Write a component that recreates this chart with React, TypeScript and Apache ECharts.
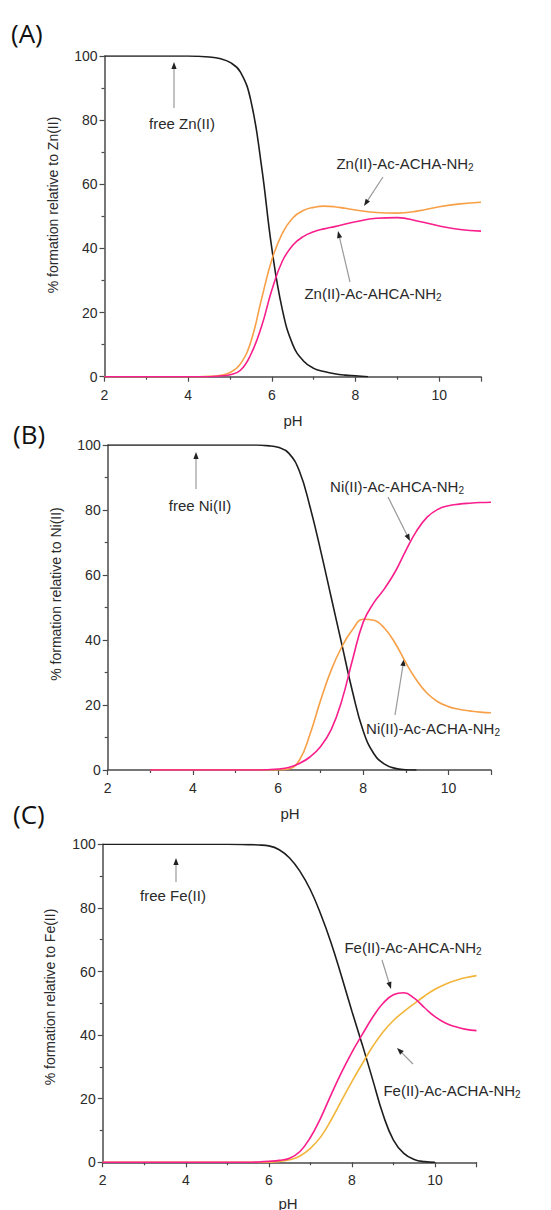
import React, { useEffect, useRef } from "react";
import * as echarts from "echarts";

// ---- Data (pH, % formation) ----
const freeZn = [[2,100],[3,100],[4,100],[4.25,99.9],[4.5,99.7],[4.75,99.2],[5,98],[5.25,95],[5.5,86],[5.75,66],[6,40],[6.25,21],[6.5,10],[6.75,5],[7,2.6],[7.25,1.6],[7.5,0.9],[7.75,0.5],[8,0.3],[8.3,0]];
const znACHA = [[2,0],[3,0],[4,0],[4.25,0],[4.5,0.1],[4.75,0.4],[5,1.3],[5.25,4],[5.5,11],[5.75,24],[6,36.5],[6.25,44.7],[6.5,49.5],[6.75,51.8],[7,52.8],[7.25,53.2],[7.5,53],[7.75,52.5],[8,52],[8.5,51.2],[9,51],[9.5,51.7],[10,53],[10.5,53.9],[11,54.4]];
const znAHCA = [[2,0],[3,0],[4,0],[4.25,0],[4.5,0],[4.75,0.2],[5,0.6],[5.25,2],[5.5,7],[5.75,15.5],[6,27],[6.25,36],[6.5,41],[6.75,43.7],[7,45.2],[7.25,46.1],[7.5,46.8],[8,48.3],[8.5,49.4],[9,49.6],[9.5,48.5],[10,47],[10.5,45.9],[11,45.4]];

const freeNi = [[2,100],[3,100],[4,100],[5,100],[5.5,100],[5.75,99.8],[6,99.3],[6.25,97.5],[6.5,92],[6.75,81],[7,67.5],[7.25,53],[7.5,38.5],[7.75,24],[8,12],[8.25,5],[8.5,1.8],[8.75,0.5],[9,0.1],[9.25,0]];
const niACHA = [[3,0],[4,0],[5,0],[5.5,0],[6,0],[6.25,0.3],[6.5,3],[6.75,11],[7,21.5],[7.25,30.8],[7.5,38],[7.75,43.2],[8,46.4],[8.25,46.1],[8.5,43.6],[8.75,39],[9,33],[9.25,27.7],[9.5,23.6],[9.75,21],[10,19.5],[10.25,18.7],[10.5,18.2],[10.75,17.8],[11,17.6]];
const niAHCA = [[3,0],[4,0],[5,0],[5.5,0],[5.75,0.1],[6,0.3],[6.25,0.8],[6.5,2],[6.75,4],[7,7.2],[7.25,12.5],[7.5,21.5],[7.75,34],[8,45.5],[8.25,51.5],[8.5,55.8],[8.75,61],[9,67.5],[9.25,73.5],[9.5,77.8],[9.75,80.2],[10,81.3],[10.25,81.8],[10.5,82.1],[10.75,82.3],[11,82.4]];

const freeFe = [[2,100],[3,100],[4,100],[5,100],[5.5,99.9],[5.75,99.8],[6,99.5],[6.25,98.3],[6.5,95.7],[6.75,91.5],[7,85.7],[7.25,78],[7.5,69],[7.75,58.5],[8,47.5],[8.25,37],[8.5,26],[8.75,15],[9,7],[9.25,2.8],[9.5,0.9],[9.75,0.2],[10,0]];
const feAHCA = [[2,0],[3,0],[4,0],[5,0],[5.5,0],[5.75,0.1],[6,0.3],[6.25,0.6],[6.5,1.3],[6.75,3.4],[7,7.8],[7.25,14],[7.5,21.3],[7.75,28.3],[8,34.6],[8.25,40.2],[8.5,45.6],[8.75,50],[9,52.7],[9.25,53.3],[9.5,51.6],[9.75,48.6],[10,45.8],[10.25,43.8],[10.5,42.6],[10.75,41.8],[11,41.4]];
const feACHA = [[2,0],[3,0],[4,0],[5,0],[5.5,0],[6,0],[6.25,0.3],[6.5,0.8],[6.75,2],[7,4.4],[7.25,8],[7.5,13.3],[7.75,19.4],[8,25.4],[8.25,31],[8.5,36.4],[8.75,41],[9,44.6],[9.25,47.4],[9.5,49.9],[9.75,52.3],[10,54.4],[10.25,56],[10.5,57.2],[10.75,58.1],[11,58.7]];

const xTicks = { min: 2, max: 11, interval: 2 };
const yTicks = { min: 0, max: 100, interval: 20 };
const panelLetters = ["(A)", "(B)", "(C)"];
const yNames = ["% formation relative to Zn(II)", "% formation relative to Ni(II)", "% formation relative to Fe(II)"];
const xName = "pH";

const BLACK = "#1e1e1e";
const ORANGE = "#F7A048";
const PINK = "#F81E8C";
const GOLD = "#F2B53A";
const TEXT = "#2a2a2a";
const FONT = "'Liberation Sans', Arial, sans-serif";

function arrow(x1: number, y1: number, x2: number, y2: number) {
  const a = Math.atan2(y2 - y1, x2 - x1);
  const L = 7, W = 2.6;
  const c = Math.cos(a), s = Math.sin(a);
  const bx = x2 - L * c, by = y2 - L * s;
  return [
    { type: "line", shape: { x1, y1, x2: bx, y2: by }, style: { stroke: "#9a9a9a", lineWidth: 1.2 } },
    { type: "polygon", shape: { points: [[x2, y2], [bx + W * s, by - W * c], [bx - W * s, by + W * c]] }, style: { fill: "#222" } },
  ];
}

function label(x: number, y: number, text: string, sub?: boolean) {
  return {
    type: "text",
    x, y,
    style: {
      text: sub ? text + "{s|2}" : text,
      font: `15px ${FONT}`,
      fill: TEXT,
      align: "center",
      verticalAlign: "middle",
      rich: { s: { fontSize: 10, fontFamily: "Liberation Sans", fill: TEXT, padding: [9, 0, 0, 0] } },
    },
  };
}

export default function App() {
  const ref = useRef<HTMLDivElement>(null);
  useEffect(() => {
    if (!ref.current) return;
    const chart = echarts.init(ref.current, undefined, { renderer: "svg" });
    const grids = [
      { left: 104.5, top: 56, width: 376.5, height: 320.7 },
      { left: 107.7, top: 445, width: 383.3, height: 325 },
      { left: 102.7, top: 844.3, width: 373.8, height: 318 },
    ];
    const axisCommon = {
      axisLine: { lineStyle: { color: "#4a4a4a", width: 1.5 } },
      axisTick: { show: true, length: 5, lineStyle: { color: "#4a4a4a", width: 1.2 } },
      minorTick: { show: true, splitNumber: 2, length: 3, lineStyle: { color: "#4a4a4a", width: 1.2 } },
      splitLine: { show: false },
      axisLabel: { color: TEXT, fontSize: 14, fontFamily: FONT },
    };
    const xAxes = grids.map((_, i) => ({
      type: "value", gridIndex: i, ...xTicks, ...axisCommon,
      axisLabel: { ...axisCommon.axisLabel, margin: 11, showMaxLabel: false },
    }));
    const yAxes = grids.map((_, i) => ({
      type: "value", gridIndex: i, ...yTicks, ...axisCommon,
      axisLabel: { ...axisCommon.axisLabel, margin: 7 },
    }));
    const mk = (data: number[][], color: string, i: number, z: number) => ({
      type: "line", xAxisIndex: i, yAxisIndex: i, data, smooth: 0.45,
      showSymbol: false, symbol: "none", z, lineStyle: { color, width: 1.6 }, silent: true,
    });
    const series = [
      mk(freeZn, BLACK, 0, 3), mk(znACHA, ORANGE, 0, 4), mk(znAHCA, PINK, 0, 5),
      mk(freeNi, BLACK, 1, 3), mk(niACHA, ORANGE, 1, 4), mk(niAHCA, PINK, 1, 5),
      mk(freeFe, BLACK, 2, 3), mk(feACHA, GOLD, 2, 4), mk(feAHCA, PINK, 2, 5),
    ];
    const yNameCenters = [[53, 205], [56, 594], [50, 997]];
    const xNamePos = [[293, 420], [290, 813], [288, 1203]];
    const letterPos = [[11, 33], [13, 434], [13, 814]];
    const graphic: any[] = [];
    panelLetters.forEach((t, i) => {
      graphic.push({ type: "text", x: letterPos[i][0], y: letterPos[i][1], style: { text: t, font: "26px 'Open Sans', sans-serif", fill: "#111", verticalAlign: "middle" } });
      graphic.push({ type: "text", x: yNameCenters[i][0], y: yNameCenters[i][1], rotation: Math.PI / 2, style: { text: yNames[i], font: `14px ${FONT}`, fill: TEXT, align: "center", verticalAlign: "middle" } });
      graphic.push({ type: "text", x: xNamePos[i][0], y: xNamePos[i][1], style: { text: xName, font: `15px ${FONT}`, fill: TEXT, align: "center", verticalAlign: "middle" } });
    });
    graphic.push(label(182, 123, "free Zn(II)"));
    graphic.push(...arrow(174, 108, 174, 62));
    graphic.push(label(405, 163, "Zn(II)-Ac-ACHA-NH", true));
    graphic.push(...arrow(383, 177, 364, 206));
    graphic.push(label(373, 293, "Zn(II)-Ac-AHCA-NH", true));
    graphic.push(...arrow(350, 282, 338, 231));

    graphic.push(label(200, 505, "free Ni(II)"));
    graphic.push(...arrow(196, 489, 196, 452));
    graphic.push(label(397, 486, "Ni(II)-Ac-AHCA-NH", true));
    graphic.push(...arrow(388, 497, 410, 541));
    graphic.push(label(433, 728, "Ni(II)-Ac-ACHA-NH", true));
    graphic.push(...arrow(395, 715, 404, 659));

    graphic.push(label(173, 895, "free Fe(II)"));
    graphic.push(...arrow(176, 882, 176, 858));
    graphic.push(label(413, 947, "Fe(II)-Ac-AHCA-NH", true));
    graphic.push(...arrow(382, 960, 391, 989));
    graphic.push(label(452, 1090, "Fe(II)-Ac-ACHA-NH", true));
    graphic.push(...arrow(413, 1064, 397, 1048));

    chart.setOption({
      animation: false,
      backgroundColor: "#fff",
      grid: grids,
      xAxis: xAxes,
      yAxis: yAxes,
      series,
      graphic,
    } as any);
    return () => chart.dispose();
  }, []);
  return <div ref={ref} style={{ position: "absolute", left: 0, top: 0, width: 551, height: 1210 }} />;
}
